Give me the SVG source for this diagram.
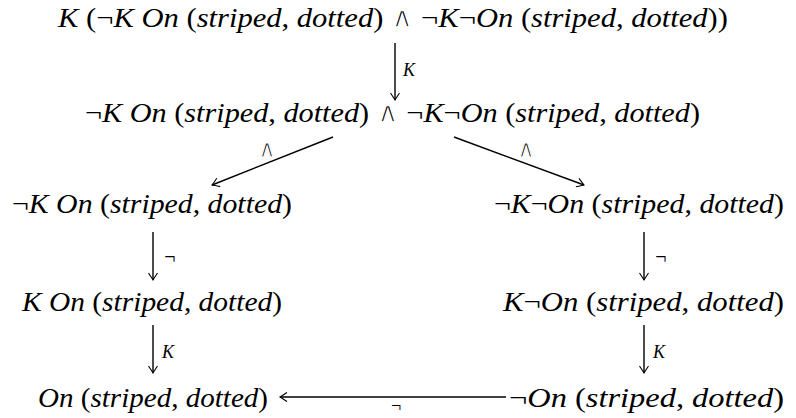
<svg xmlns="http://www.w3.org/2000/svg" width="796" height="418" viewBox="0 0 796 418">
<style>
.t{font-family:'Liberation Serif','Tinos','Times New Roman','DejaVu Serif',serif;font-size:28px;font-style:italic;fill:#000}
.u{font-style:normal}
.w{font-style:normal;font-family:'DejaVu Serif','DejaVu Sans',sans-serif;stroke:#fff;stroke-width:1.3px}
.l{font-family:'Liberation Serif','Tinos','Times New Roman','DejaVu Serif',serif;font-size:18px;font-style:italic;fill:#000}
.lw{stroke-width:1.1px;font-size:24px}
.ln{font-size:20px}
.c line{stroke:#000;stroke-width:1.4;fill:none;marker-end:url(#ah)}
</style>
<defs>
<marker id="ah" markerUnits="userSpaceOnUse" orient="auto" refX="0" refY="0" markerWidth="12" markerHeight="12" viewBox="-9 -6 11 12" overflow="visible">
<path d="M-7,-4.5 Q-2,-1.2 0,0 Q-2,1.2 -7,4.5" fill="none" stroke="#000" stroke-width="1.1"/>
</marker>
</defs>
<g id="n1"><text class="t" x="58" y="27" textLength="670" lengthAdjust="spacingAndGlyphs">K <tspan class="u">(¬</tspan>K On <tspan class="u">(</tspan>striped<tspan class="u">, </tspan>dotted<tspan class="u">) </tspan><tspan class="w">∧</tspan><tspan class="u"> ¬</tspan>K<tspan class="u">¬</tspan>On <tspan class="u">(</tspan>striped<tspan class="u">, </tspan>dotted<tspan class="u">))</tspan></text></g>
<g id="n2"><text class="t" x="85" y="122" textLength="615" lengthAdjust="spacingAndGlyphs"><tspan class="u">¬</tspan>K On <tspan class="u">(</tspan>striped<tspan class="u">, </tspan>dotted<tspan class="u">) </tspan><tspan class="w">∧</tspan><tspan class="u"> ¬</tspan>K<tspan class="u">¬</tspan>On <tspan class="u">(</tspan>striped<tspan class="u">, </tspan>dotted<tspan class="u">)</tspan></text></g>
<g id="n3"><text class="t" x="12" y="213" textLength="280" lengthAdjust="spacingAndGlyphs"><tspan class="u">¬</tspan>K On <tspan class="u">(</tspan>striped<tspan class="u">, </tspan>dotted<tspan class="u">)</tspan></text></g>
<g id="n4"><text class="t" x="494" y="213" textLength="290" lengthAdjust="spacingAndGlyphs"><tspan class="u">¬</tspan>K<tspan class="u">¬</tspan>On <tspan class="u">(</tspan>striped<tspan class="u">, </tspan>dotted<tspan class="u">)</tspan></text></g>
<g id="n5"><text class="t" x="22" y="311" textLength="260" lengthAdjust="spacingAndGlyphs">K On <tspan class="u">(</tspan>striped<tspan class="u">, </tspan>dotted<tspan class="u">)</tspan></text></g>
<g id="n6"><text class="t" x="503" y="311" textLength="281" lengthAdjust="spacingAndGlyphs">K<tspan class="u">¬</tspan>On <tspan class="u">(</tspan>striped<tspan class="u">, </tspan>dotted<tspan class="u">)</tspan></text></g>
<g id="n7"><text class="t" x="38" y="407" textLength="230" lengthAdjust="spacingAndGlyphs">On <tspan class="u">(</tspan>striped<tspan class="u">, </tspan>dotted<tspan class="u">)</tspan></text></g>
<g id="n8"><text class="t" x="509" y="407" textLength="275" lengthAdjust="spacingAndGlyphs"><tspan class="u">¬</tspan>On <tspan class="u">(</tspan>striped<tspan class="u">, </tspan>dotted<tspan class="u">)</tspan></text></g>
<g id="connectors" class="c">
<line x1="395" y1="43" x2="395" y2="100"/>
<line x1="333" y1="137" x2="212" y2="185"/>
<line x1="454" y1="137" x2="584" y2="185"/>
<line x1="153" y1="232" x2="153" y2="280"/>
<line x1="644" y1="232" x2="644" y2="280"/>
<line x1="153" y1="325" x2="153" y2="373"/>
<line x1="644" y1="325" x2="644" y2="373"/>
<line x1="506" y1="397" x2="280" y2="397"/>
</g>
<g id="labels">
<text class="l" x="403" y="76">K</text>
<text class="l w lw" x="267" y="157" text-anchor="middle">∧</text>
<text class="l w lw" x="526" y="157" text-anchor="middle">∧</text>
<text class="l u ln" x="163" y="264">¬</text>
<text class="l u ln" x="654" y="264">¬</text>
<text class="l" x="162" y="358">K</text>
<text class="l" x="653" y="358">K</text>
<text class="l u" x="390" y="412">¬</text>
</g>
</svg>
